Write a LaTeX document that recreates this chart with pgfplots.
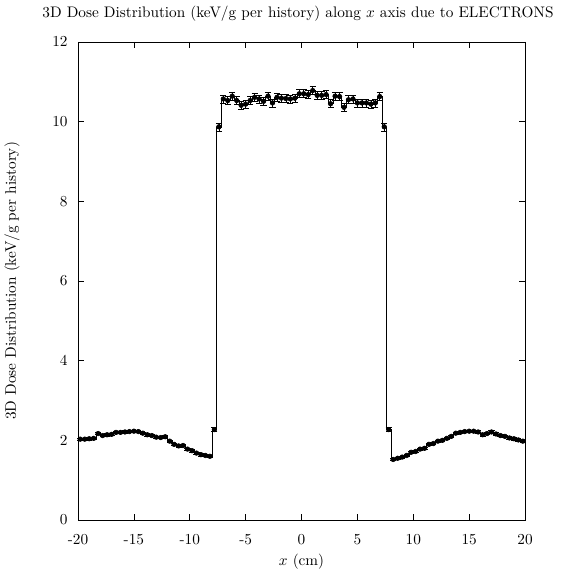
\documentclass[border=0pt]{standalone}
\usepackage{pgfplots}
\usepackage{pgfplotstable}
\pgfplotsset{compat=1.18}
\pgfplotstableread{
x y e
-19.8 2.03 0.03
-19.4 2.03 0.03
-19.0 2.04 0.03
-18.6 2.05 0.03
-18.2 2.17 0.03
-17.8 2.12 0.03
-17.4 2.14 0.03
-17.0 2.15 0.03
-16.6 2.20 0.03
-16.2 2.20 0.03
-15.8 2.21 0.03
-15.4 2.22 0.03
-15.0 2.23 0.03
-14.6 2.22 0.03
-14.2 2.18 0.03
-13.8 2.14 0.03
-13.4 2.12 0.03
-13.0 2.08 0.03
-12.6 2.07 0.03
-12.2 2.09 0.03
-11.8 1.98 0.03
-11.4 1.90 0.03
-11.0 1.86 0.03
-10.6 1.87 0.03
-10.2 1.78 0.03
-9.8 1.74 0.03
-9.4 1.68 0.03
-9.0 1.64 0.03
-8.6 1.62 0.03
-8.2 1.60 0.03
-7.8 2.27 0.05
-7.4 9.87 0.10
-7.0 10.57 0.10
-6.6 10.53 0.10
-6.2 10.64 0.10
-5.8 10.53 0.10
-5.4 10.41 0.10
-5.0 10.44 0.10
-4.6 10.53 0.10
-4.2 10.61 0.10
-3.8 10.57 0.10
-3.4 10.51 0.10
-3.0 10.64 0.10
-2.6 10.47 0.10
-2.2 10.61 0.10
-1.8 10.59 0.10
-1.4 10.58 0.10
-1.0 10.57 0.10
-0.6 10.59 0.10
-0.2 10.70 0.10
0.2 10.70 0.10
0.6 10.68 0.10
1.0 10.78 0.10
1.4 10.66 0.10
1.8 10.66 0.10
2.2 10.68 0.10
2.6 10.45 0.10
3.0 10.64 0.10
3.4 10.63 0.10
3.8 10.36 0.10
4.2 10.55 0.10
4.6 10.57 0.10
5.0 10.47 0.10
5.4 10.47 0.10
5.8 10.47 0.10
6.2 10.44 0.10
6.6 10.47 0.10
7.0 10.63 0.10
7.4 9.87 0.10
7.8 2.27 0.05
8.2 1.52 0.03
8.6 1.55 0.03
9.0 1.58 0.03
9.4 1.62 0.03
9.8 1.70 0.03
10.2 1.72 0.03
10.6 1.78 0.03
11.0 1.80 0.03
11.4 1.90 0.03
11.8 1.92 0.03
12.2 1.98 0.03
12.6 2.00 0.03
13.0 2.05 0.03
13.4 2.10 0.03
13.8 2.18 0.03
14.2 2.20 0.03
14.6 2.22 0.03
15.0 2.23 0.03
15.4 2.23 0.03
15.8 2.21 0.03
16.2 2.14 0.03
16.6 2.17 0.03
17.0 2.21 0.03
17.4 2.16 0.03
17.8 2.12 0.03
18.2 2.10 0.03
18.6 2.06 0.03
19.0 2.04 0.03
19.4 2.01 0.03
19.8 1.98 0.03
}\dosedata
\begin{document}
\begin{tikzpicture}
\path[use as bounding box] (-51.1pt,-33.4pt) rectangle (324.2pt,340.6pt);
\begin{axis}[
  at={(0pt,0pt)}, anchor=south west,
  scale only axis,
  width=292.8pt, height=313.1pt,
  xmin=-20, xmax=20, ymin=0, ymax=12,
  xtick={-20,-15,...,20},
  xticklabels={-20,-15,-10,-5,0,5,10,15,20},
  ytick={0,2,...,12},
  tick align=inside,
  tick style={black, thin},
  major tick length=4pt,
  axis line style={black, thin},
  xticklabel style={anchor=center, yshift=-13pt},
  yticklabel style={xshift=-3.3pt},
  title={3D Dose Distribution (keV/g per history) along $x$ axis due to ELECTRONS},
  title style={at={(axis description cs:0.492,1.039)}, anchor=center},
  xlabel={$x$ (cm)},
  xlabel style={at={(axis description cs:0.5,-0.0878)}, anchor=center},
  ylabel={3D Dose Distribution (keV/g per history)},
  ylabel style={at={(axis description cs:-0.1475,0.5)}, anchor=center},
  clip=false,
]
\addplot[black, thin, const plot mark mid, mark=none] table[x=x, y=y] {\dosedata};
\addplot[black, only marks, mark=*, mark size=1.5pt,
  error bars/.cd, y dir=both, y explicit,
  error bar style={black, thin},
  error mark options={black, rotate=90, mark size=2pt, thin}]
  table[x=x, y=y, y error=e] {\dosedata};
\end{axis}
\end{tikzpicture}
\end{document}
